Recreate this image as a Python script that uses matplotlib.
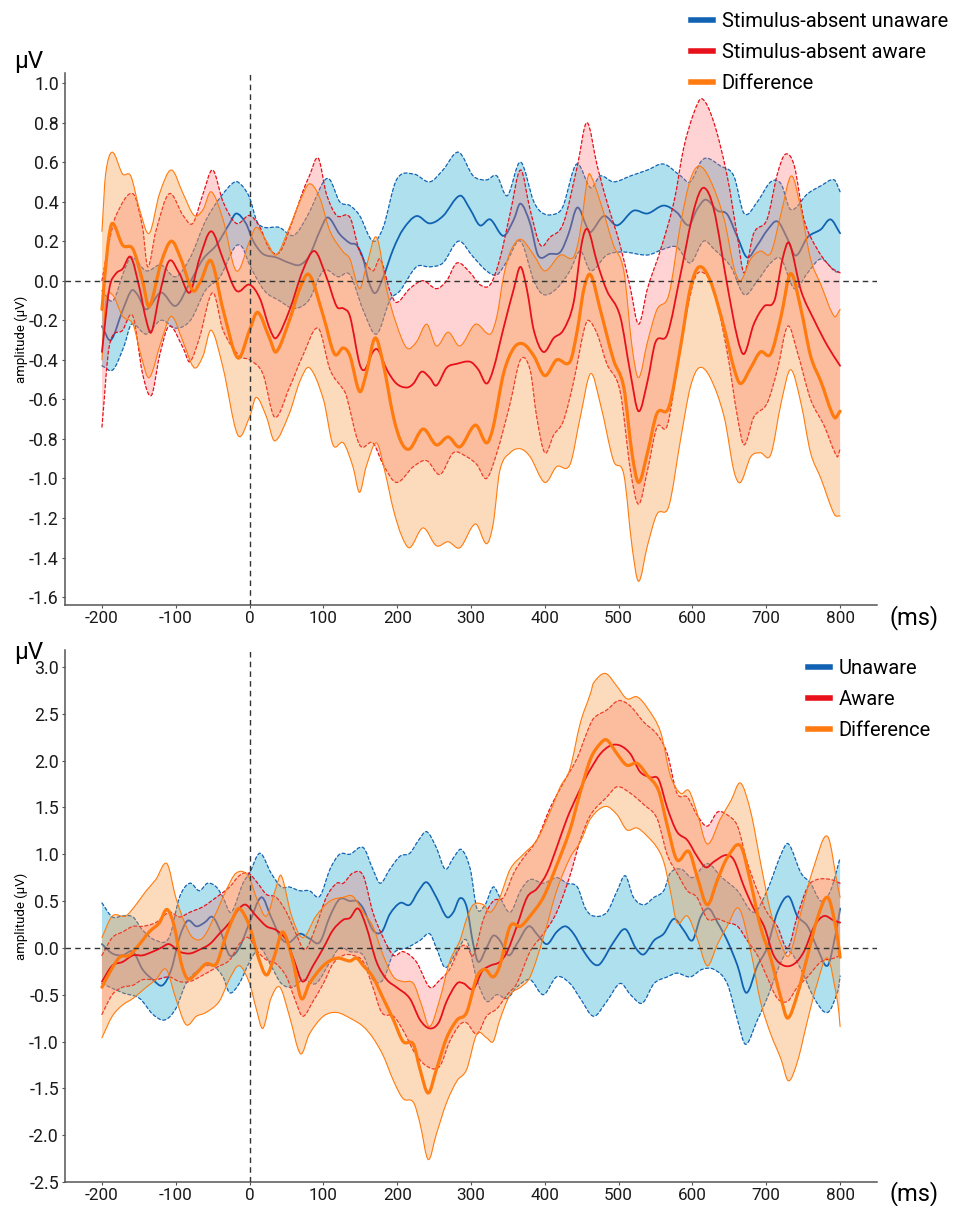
import numpy as np
import matplotlib
matplotlib.use("Agg")
import matplotlib.pyplot as plt
from matplotlib.lines import Line2D
from matplotlib.path import Path
from matplotlib.patches import PathPatch

plt.rcParams['font.family'] = ['Roboto', 'DejaVu Sans']
plt.rcParams['axes.unicode_minus'] = False

# ---------------- data: (time ms, amplitude uV) readings ----------------
# Top panel: stimulus-absent
top_unaware_mean = [(-200,-0.23),(-188,-0.30),(-172,-0.15),(-160,-0.05),(-152,-0.07),(-140,-0.145),(-120,-0.06),(-100,-0.127),(-81,-0.01),(-63,0.11),(-45,0.18),(-27,0.29),(-18,0.34),(-5,0.29),(5,0.20),(18,0.136),(36,0.118),(54,0.09),(68,0.08),(81,0.127),(95,0.25),(106,0.32),(122,0.236),(136,0.19),(145,0.18),(154,0.11),(161,0.0),(170,-0.063),(181,0.018),(195,0.163),(208,0.26),(226,0.327),(244,0.29),(262,0.327),(285,0.43),(299,0.36),(312,0.28),(326,0.31),(344,0.227),(358,0.31),(367,0.39),(380,0.29),(391,0.127),(407,0.136),(421,0.145),(432,0.236),(444,0.37),(457,0.27),(462,0.245),(480,0.327),(498,0.28),(520,0.354),(539,0.34),(561,0.38),(579,0.345),(595,0.28),(606,0.36),(618,0.41),(634,0.354),(647,0.336),(661,0.22),(674,0.118),(688,0.18),(701,0.254),(715,0.30),(729,0.21),(740,0.127),(756,0.22),(774,0.26),(787,0.31),(800,0.24)]
top_unaware_upper = [(-200,-0.05),(-185,-0.1),(-170,0.05),(-160,0.12),(-140,0.05),(-120,0.08),(-100,0.02),(-80,0.12),(-60,0.3),(-40,0.42),(-20,0.50),(-10,0.48),(0,0.42),(10,0.3),(20,0.27),(40,0.27),(60,0.23),(80,0.34),(100,0.5),(109,0.51),(122,0.40),(136,0.38),(149,0.33),(167,0.20),(181,0.27),(199,0.51),(222,0.54),(244,0.50),(262,0.56),(283,0.65),(303,0.53),(321,0.51),(335,0.53),(349,0.43),(367,0.60),(385,0.40),(398,0.34),(416,0.34),(425,0.38),(443,0.59),(462,0.47),(475,0.53),(493,0.50),(516,0.53),(539,0.56),(561,0.59),(584,0.53),(597,0.50),(611,0.60),(620,0.62),(638,0.58),(656,0.53),(670,0.34),(688,0.40),(706,0.50),(720,0.49),(733,0.36),(756,0.44),(774,0.48),(792,0.51),(800,0.45)]
top_unaware_lower = [(-200,-0.43),(-185,-0.45),(-170,-0.33),(-160,-0.22),(-140,-0.27),(-120,-0.2),(-100,-0.24),(-80,-0.2),(-60,-0.05),(-40,0.02),(-20,0.17),(-10,0.17),(0,0.08),(20,-0.05),(40,-0.1),(60,-0.14),(80,-0.1),(100,0.05),(120,0.02),(136,0.03),(154,-0.15),(172,-0.27),(190,-0.1),(204,-0.05),(226,0.07),(244,0.07),(262,0.09),(283,0.2),(303,0.12),(321,0.05),(335,0.03),(349,0.1),(367,0.2),(385,0.0),(398,-0.07),(416,-0.04),(434,0.05),(448,0.15),(462,0.05),(484,0.13),(507,0.145),(539,0.13),(561,0.16),(579,0.17),(597,0.09),(615,0.2),(629,0.16),(652,0.07),(670,-0.07),(688,0.0),(706,0.09),(720,0.11),(738,-0.04),(756,0.04),(774,0.11),(792,0.05),(800,0.04)]

top_aware_mean = [(-200,-0.36),(-190,-0.04),(-181,0.036),(-172,0.06),(-161,0.12),(-149,-0.04),(-140,-0.2),(-133,-0.26),(-122,-0.07),(-109,0.10),(-95,0.036),(-81,-0.06),(-68,0.11),(-52,0.25),(-36,0.11),(-18,-0.05),(0,-0.02),(14,-0.09),(27,-0.24),(36,-0.29),(54,-0.15),(72,0.05),(88,0.15),(104,0.02),(118,-0.13),(127,-0.14),(136,-0.18),(149,-0.42),(156,-0.45),(167,-0.36),(174,-0.35),(186,-0.45),(199,-0.52),(213,-0.54),(222,-0.52),(233,-0.46),(244,-0.49),(253,-0.53),(267,-0.44),(281,-0.42),(299,-0.41),(310,-0.45),(321,-0.52),(330,-0.45),(344,-0.24),(358,-0.04),(367,0.07),(376,-0.05),(385,-0.25),(398,-0.36),(412,-0.29),(425,-0.25),(439,-0.11),(450,0.19),(458,0.26),(471,0.09),(484,-0.05),(502,-0.18),(516,-0.47),(527,-0.66),(539,-0.51),(550,-0.31),(566,-0.27),(584,0.036),(602,0.36),(615,0.47),(629,0.36),(647,-0.02),(661,-0.29),(670,-0.37),(683,-0.22),(697,-0.13),(711,-0.10),(722,0.11),(731,0.19),(747,-0.05),(765,-0.2),(783,-0.33),(800,-0.43)]
top_aware_upper = [(-200,0.0),(-190,0.2),(-181,0.33),(-158,0.44),(-145,0.27),(-138,0.07),(-127,0.25),(-109,0.44),(-90,0.33),(-77,0.29),(-63,0.44),(-50,0.56),(-36,0.40),(-18,0.29),(0,0.33),(14,0.27),(27,0.16),(41,0.145),(59,0.31),(72,0.45),(81,0.53),(93,0.62),(104,0.44),(118,0.33),(136,0.32),(149,0.15),(167,0.05),(177,0.11),(190,-0.05),(199,-0.11),(217,-0.04),(235,0.0),(253,-0.04),(267,0.0),(281,0.09),(299,0.04),(312,-0.02),(326,-0.02),(339,0.11),(353,0.34),(367,0.56),(380,0.36),(394,0.18),(407,0.22),(425,0.29),(444,0.58),(457,0.80),(471,0.58),(484,0.40),(502,0.18),(516,-0.04),(527,-0.22),(539,-0.04),(557,0.16),(575,0.40),(588,0.67),(602,0.85),(613,0.92),(629,0.80),(647,0.53),(661,0.22),(670,0.04),(683,0.24),(701,0.31),(715,0.54),(726,0.64),(738,0.58),(751,0.31),(769,0.16),(787,0.07),(800,0.04)]
top_aware_lower = [(-200,-0.74),(-190,-0.33),(-172,-0.25),(-158,-0.18),(-145,-0.47),(-133,-0.58),(-122,-0.38),(-109,-0.23),(-90,-0.34),(-81,-0.41),(-68,-0.29),(-50,-0.06),(-36,-0.25),(-14,-0.38),(0,-0.40),(18,-0.47),(34,-0.69),(54,-0.54),(72,-0.38),(93,-0.24),(109,-0.45),(127,-0.55),(131,-0.58),(149,-0.83),(167,-0.82),(181,-0.93),(199,-1.02),(222,-0.94),(240,-0.91),(258,-0.98),(276,-0.87),(294,-0.89),(308,-0.93),(321,-1.0),(335,-0.87),(353,-0.62),(367,-0.40),(380,-0.45),(389,-0.69),(400,-0.87),(412,-0.78),(425,-0.71),(439,-0.51),(453,-0.25),(459,-0.2),(471,-0.27),(484,-0.42),(502,-0.56),(516,-0.96),(527,-1.13),(539,-0.96),(552,-0.74),(566,-0.73),(584,-0.33),(602,0.0),(615,0.04),(629,-0.05),(647,-0.36),(661,-0.69),(670,-0.83),(683,-0.69),(701,-0.62),(715,-0.45),(729,-0.23),(742,-0.36),(760,-0.6),(778,-0.73),(796,-0.89),(800,-0.85)]

top_diff_mean = [(-200,-0.145),(-192,0.18),(-186,0.29),(-172,0.18),(-158,0.16),(-145,0.0),(-136,-0.13),(-120,0.09),(-106,0.2),(-93,0.11),(-77,-0.05),(-66,0.0),(-52,0.1),(-36,-0.145),(-16,-0.39),(0,-0.25),(11,-0.16),(27,-0.29),(36,-0.36),(54,-0.2),(68,-0.04),(81,0.03),(100,-0.18),(115,-0.37),(127,-0.34),(136,-0.38),(149,-0.56),(158,-0.47),(170,-0.29),(181,-0.42),(195,-0.69),(206,-0.82),(217,-0.85),(235,-0.75),(253,-0.83),(269,-0.79),(285,-0.84),(306,-0.73),(321,-0.82),(330,-0.74),(344,-0.47),(358,-0.34),(371,-0.32),(385,-0.38),(400,-0.48),(416,-0.4),(434,-0.41),(444,-0.25),(453,-0.04),(462,0.03),(475,-0.145),(493,-0.4),(507,-0.54),(518,-0.87),(527,-1.02),(539,-0.87),(552,-0.67),(568,-0.64),(584,-0.33),(597,-0.04),(609,0.07),(624,0.0),(643,-0.24),(656,-0.44),(665,-0.52),(679,-0.44),(692,-0.36),(706,-0.37),(720,-0.18),(733,0.036),(747,-0.145),(760,-0.38),(774,-0.51),(792,-0.69),(800,-0.66)]
top_diff_upper = [(-200,0.25),(-195,0.54),(-186,0.65),(-172,0.54),(-161,0.53),(-149,0.36),(-136,0.24),(-122,0.44),(-106,0.56),(-90,0.44),(-75,0.33),(-63,0.36),(-52,0.45),(-36,0.31),(-18,0.05),(0,0.2),(9,0.27),(23,0.2),(36,0.13),(54,0.27),(68,0.4),(81,0.49),(95,0.42),(109,0.25),(127,0.145),(136,0.11),(149,-0.04),(158,0.07),(172,0.22),(186,-0.05),(199,-0.22),(213,-0.34),(226,-0.31),(240,-0.22),(253,-0.33),(269,-0.26),(285,-0.33),(306,-0.22),(326,-0.27),(335,-0.18),(344,0.02),(353,0.145),(367,0.21),(385,0.13),(400,0.05),(421,0.13),(439,0.12),(448,0.25),(457,0.5),(461,0.54),(475,0.40),(493,0.18),(507,0.05),(518,-0.33),(527,-0.49),(539,-0.31),(552,-0.145),(568,-0.07),(584,0.29),(597,0.51),(609,0.58),(624,0.51),(643,0.31),(656,0.07),(665,0.0),(679,0.11),(692,0.15),(706,0.14),(720,0.34),(734,0.53),(747,0.36),(760,0.11),(774,-0.02),(792,-0.18),(800,-0.145)]
top_diff_lower = [(-200,-0.4),(-195,-0.11),(-186,-0.07),(-172,-0.18),(-158,-0.22),(-147,-0.38),(-136,-0.49),(-120,-0.31),(-106,-0.18),(-90,-0.31),(-75,-0.44),(-63,-0.38),(-52,-0.25),(-36,-0.44),(-16,-0.78),(0,-0.69),(9,-0.59),(23,-0.69),(34,-0.81),(54,-0.67),(68,-0.51),(81,-0.44),(100,-0.6),(113,-0.83),(127,-0.82),(140,-0.94),(149,-1.07),(158,-0.94),(172,-0.82),(183,-0.96),(195,-1.16),(206,-1.29),(217,-1.35),(235,-1.25),(253,-1.34),(269,-1.32),(285,-1.35),(306,-1.23),(321,-1.33),(330,-1.23),(339,-0.96),(353,-0.87),(367,-0.85),(380,-0.89),(400,-1.02),(416,-0.94),(434,-0.93),(448,-0.69),(462,-0.47),(475,-0.62),(493,-0.91),(507,-0.98),(518,-1.34),(527,-1.52),(539,-1.34),(552,-1.18),(568,-1.14),(584,-0.80),(597,-0.54),(609,-0.44),(624,-0.49),(643,-0.69),(656,-0.96),(665,-1.02),(679,-0.89),(692,-0.87),(706,-0.88),(720,-0.62),(733,-0.45),(747,-0.62),(760,-0.87),(774,-1.0),(792,-1.18),(800,-1.19)]

# Bottom panel
bot_unaware_mean = [(-200,0.04),(-186,-0.06),(-172,-0.08),(-158,-0.04),(-145,-0.23),(-131,-0.34),(-118,-0.40),(-106,-0.23),(-95,0.11),(-84,0.29),(-72,0.23),(-61,0.27),(-50,0.33),(-38,0.15),(-27,-0.08),(-14,0.0),(0,0.27),(16,0.54),(29,0.33),(43,0.10),(54,0.06),(68,0.15),(81,0.10),(95,0.06),(109,0.34),(122,0.52),(136,0.5),(145,0.5),(154,0.42),(167,0.19),(179,0.17),(190,0.36),(204,0.48),(217,0.46),(229,0.61),(240,0.70),(253,0.54),(267,0.33),(276,0.38),(285,0.53),(294,0.44),(303,0.04),(310,-0.15),(321,0.0),(330,0.13),(339,0.08),(351,-0.08),(362,0.04),(378,0.23),(391,0.13),(403,0.04),(416,0.17),(428,0.23),(439,0.15),(453,-0.04),(466,-0.17),(475,-0.17),(493,0.06),(509,0.2),(523,0.0),(534,-0.07),(548,0.08),(561,0.15),(575,0.31),(588,0.19),(600,0.08),(611,0.33),(622,0.42),(634,0.27),(647,0.08),(661,-0.19),(673,-0.48),(688,-0.19),(701,0.0),(715,0.38),(730,0.55),(742,0.34),(756,0.23),(769,0.0),(783,-0.19),(794,0.15),(800,0.42)]
bot_unaware_upper = [(-200,0.48),(-186,0.33),(-172,0.34),(-158,0.33),(-145,0.19),(-127,0.08),(-109,0.11),(-95,0.54),(-81,0.69),(-68,0.61),(-57,0.69),(-45,0.65),(-36,0.54),(-25,0.38),(-9,0.69),(0,0.8),(14,1.01),(29,0.8),(43,0.65),(54,0.65),(68,0.61),(81,0.61),(95,0.55),(109,0.84),(122,1.0),(136,1.0),(154,1.07),(167,0.84),(177,0.69),(190,0.84),(204,0.98),(217,1.01),(229,1.15),(240,1.24),(253,1.07),(265,0.84),(276,0.96),(287,1.05),(299,0.84),(308,0.42),(319,0.46),(330,0.65),(339,0.54),(353,0.38),(367,0.61),(380,0.73),(398,0.69),(416,0.75),(430,0.69),(444,0.65),(455,0.42),(466,0.34),(484,0.38),(498,0.61),(509,0.77),(520,0.54),(534,0.46),(548,0.54),(561,0.61),(570,0.8),(585,0.84),(600,0.75),(620,0.9),(640,0.75),(661,0.61),(683,0.38),(701,0.61),(720,1.0),(730,1.11),(747,0.8),(760,0.69),(774,0.5),(787,0.61),(800,0.96)]
bot_unaware_lower = [(-200,-0.38),(-172,-0.48),(-149,-0.54),(-131,-0.71),(-115,-0.77),(-100,-0.65),(-86,-0.38),(-68,-0.23),(-50,-0.19),(-36,-0.31),(-27,-0.48),(-14,-0.38),(0,-0.15),(14,0.0),(29,-0.19),(43,-0.38),(59,-0.42),(72,-0.34),(90,-0.38),(109,-0.15),(122,0.0),(136,-0.04),(154,-0.08),(167,-0.34),(181,-0.34),(195,-0.06),(213,0.0),(231,0.08),(244,0.15),(253,0.0),(265,-0.21),(281,-0.04),(294,0.08),(308,-0.34),(321,-0.57),(335,-0.5),(349,-0.54),(362,-0.42),(380,-0.34),(398,-0.5),(416,-0.31),(434,-0.38),(448,-0.54),(466,-0.73),(484,-0.57),(502,-0.38),(516,-0.5),(532,-0.59),(548,-0.38),(566,-0.31),(579,-0.27),(597,-0.31),(613,-0.23),(629,-0.23),(647,-0.38),(661,-0.77),(672,-1.03),(688,-0.77),(701,-0.54),(720,-0.15),(731,-0.04),(747,-0.23),(765,-0.54),(783,-0.69),(797,-0.46),(800,-0.3)]

bot_aware_mean = [(-200,-0.36),(-186,-0.19),(-172,-0.15),(-158,-0.08),(-145,-0.08),(-131,-0.04),(-120,0.0),(-109,0.04),(-95,-0.04),(-81,-0.06),(-68,-0.02),(-54,0.04),(-41,0.15),(-27,0.27),(-14,0.42),(-5,0.46),(9,0.34),(23,0.23),(36,0.19),(50,0.08),(61,-0.15),(72,-0.36),(86,-0.19),(100,0.0),(113,0.19),(127,0.3),(136,0.32),(147,0.42),(158,0.23),(172,-0.15),(186,-0.34),(199,-0.42),(217,-0.54),(231,-0.77),(244,-0.86),(256,-0.80),(267,-0.57),(281,-0.38),(290,-0.38),(303,-0.44),(315,-0.25),(326,-0.19),(339,-0.15),(349,-0.04),(362,0.23),(376,0.54),(389,0.63),(403,0.80),(416,1.07),(430,1.38),(444,1.63),(457,1.84),(462,1.91),(475,2.07),(489,2.16),(502,2.16),(516,2.07),(529,1.88),(543,1.82),(554,1.80),(566,1.49),(579,1.24),(593,1.15),(606,0.98),(618,0.86),(629,0.92),(645,0.99),(656,0.94),(670,0.65),(683,0.42),(697,0.23),(710,-0.08),(724,-0.19),(738,-0.17),(751,-0.04),(765,0.23),(778,0.34),(792,0.29),(800,0.27)]
bot_aware_upper = [(-200,-0.08),(-186,0.11),(-172,0.17),(-158,0.23),(-145,0.23),(-127,0.27),(-109,0.38),(-95,0.33),(-81,0.38),(-63,0.44),(-45,0.54),(-27,0.65),(-14,0.77),(-2,0.80),(11,0.69),(23,0.57),(36,0.54),(50,0.38),(63,0.15),(75,-0.02),(90,0.23),(104,0.54),(118,0.69),(127,0.69),(140,0.80),(154,0.77),(167,0.38),(181,0.11),(195,-0.08),(208,-0.04),(226,-0.15),(244,-0.42),(258,-0.34),(271,-0.23),(285,0.0),(294,0.02),(303,-0.08),(317,0.31),(330,0.50),(344,0.54),(358,0.80),(371,0.96),(389,1.15),(407,1.49),(425,1.76),(444,2.03),(457,2.30),(466,2.45),(484,2.54),(500,2.64),(516,2.58),(534,2.41),(552,2.28),(566,2.07),(579,1.65),(593,1.61),(606,1.42),(620,1.30),(634,1.45),(647,1.42),(661,1.30),(674,0.92),(688,0.61),(701,0.38),(715,0.23),(729,0.0),(742,0.34),(756,0.65),(769,0.73),(787,0.73),(800,0.69)]
bot_aware_lower = [(-200,-0.71),(-186,-0.5),(-172,-0.42),(-158,-0.40),(-145,-0.34),(-127,-0.34),(-109,-0.31),(-95,-0.36),(-81,-0.36),(-63,-0.29),(-45,-0.21),(-27,-0.13),(-14,0.04),(-2,0.11),(11,-0.04),(23,-0.13),(36,-0.17),(50,-0.31),(61,-0.54),(72,-0.73),(86,-0.57),(100,-0.38),(113,-0.17),(127,-0.08),(140,-0.08),(154,-0.15),(167,-0.42),(179,-0.69),(195,-0.73),(208,-0.88),(226,-1.15),(244,-1.28),(258,-1.26),(271,-1.0),(285,-0.82),(294,-0.80),(308,-0.92),(321,-0.73),(335,-0.65),(349,-0.50),(362,-0.38),(380,-0.04),(398,0.15),(416,0.38),(434,0.77),(448,1.15),(462,1.42),(484,1.61),(498,1.72),(516,1.65),(534,1.53),(552,1.38),(566,0.99),(579,0.80),(593,0.61),(606,0.54),(620,0.31),(634,0.31),(647,0.27),(661,0.23),(674,0.08),(688,-0.08),(701,-0.31),(715,-0.54),(729,-0.57),(742,-0.42),(756,-0.31),(774,-0.15),(792,-0.11),(800,-0.08)]

bot_diff_mean = [(-200,-0.42),(-190,-0.27),(-176,-0.10),(-163,-0.08),(-149,0.04),(-136,0.17),(-122,0.27),(-112,0.41),(-102,0.23),(-93,-0.15),(-84,-0.33),(-72,-0.27),(-59,-0.17),(-45,-0.17),(-34,0.08),(-23,0.31),(-14,0.42),(0,0.23),(11,-0.08),(23,-0.29),(34,-0.08),(45,0.17),(59,-0.15),(70,-0.54),(81,-0.38),(100,-0.19),(118,-0.11),(136,-0.14),(145,-0.11),(154,-0.19),(167,-0.31),(181,-0.54),(195,-0.77),(208,-1.0),(222,-1.03),(231,-1.30),(242,-1.55),(253,-1.30),(267,-0.96),(281,-0.77),(294,-0.69),(308,-0.31),(319,-0.23),(330,-0.31),(339,-0.19),(353,0.23),(367,0.23),(380,0.34),(398,0.54),(416,0.88),(434,1.26),(448,1.66),(462,2.02),(475,2.18),(484,2.22),(498,2.07),(511,1.95),(525,1.97),(539,1.84),(554,1.68),(566,1.30),(579,0.94),(595,1.03),(606,0.77),(620,0.46),(634,0.73),(647,0.96),(665,1.09),(679,0.69),(692,0.23),(706,-0.11),(720,-0.54),(729,-0.75),(742,-0.50),(756,-0.08),(769,0.31),(783,0.54),(794,0.23),(800,-0.1)]
bot_diff_upper = [(-200,0.11),(-186,0.34),(-168,0.34),(-154,0.46),(-140,0.61),(-127,0.73),(-112,0.90),(-100,0.54),(-88,0.27),(-77,0.11),(-63,0.11),(-45,0.38),(-32,0.61),(-18,0.80),(-2,0.77),(11,0.50),(23,0.34),(36,0.65),(43,0.77),(57,0.34),(72,0.11),(90,0.34),(109,0.50),(127,0.54),(140,0.55),(154,0.38),(167,0.23),(181,-0.08),(195,-0.31),(208,-0.36),(222,-0.38),(233,-0.61),(244,-0.84),(258,-0.54),(271,-0.15),(285,0.08),(294,0.31),(303,0.46),(317,0.46),(326,0.38),(339,0.54),(353,0.84),(371,1.0),(389,1.15),(407,1.45),(421,1.72),(434,1.91),(448,2.40),(462,2.72),(466,2.83),(482,2.93),(498,2.79),(511,2.66),(525,2.68),(539,2.56),(557,2.30),(570,1.84),(584,1.65),(595,1.68),(606,1.45),(620,1.11),(638,1.38),(652,1.57),(665,1.76),(679,1.45),(692,0.92),(706,0.38),(720,0.04),(731,-0.08),(747,0.38),(765,0.88),(783,1.19),(797,0.65),(800,0.54)]
bot_diff_lower = [(-200,-0.96),(-186,-0.73),(-172,-0.61),(-158,-0.54),(-140,-0.42),(-127,-0.34),(-113,-0.23),(-100,-0.54),(-86,-0.82),(-72,-0.73),(-59,-0.69),(-41,-0.57),(-27,-0.33),(-14,-0.19),(0,-0.38),(9,-0.65),(18,-0.86),(29,-0.54),(41,-0.42),(54,-0.73),(69,-1.13),(81,-0.92),(100,-0.73),(118,-0.69),(136,-0.75),(154,-0.84),(167,-0.96),(181,-1.15),(195,-1.42),(208,-1.61),(222,-1.65),(231,-1.88),(242,-2.26),(253,-1.99),(267,-1.65),(281,-1.42),(294,-1.30),(308,-0.92),(321,-0.96),(330,-1.0),(339,-0.77),(353,-0.50),(367,-0.42),(380,-0.31),(398,0.11),(416,0.61),(434,0.96),(448,1.13),(462,1.38),(482,1.51),(498,1.42),(511,1.26),(525,1.28),(539,1.19),(552,1.07),(561,0.92),(570,0.61),(579,0.27),(593,0.34),(606,0.11),(620,-0.19),(634,0.04),(647,0.23),(663,0.42),(679,-0.04),(692,-0.57),(706,-0.92),(720,-1.19),(730,-1.42),(742,-1.22),(756,-0.77),(769,-0.38),(783,-0.11),(797,-0.6),(800,-0.84)]

top_labels = ["Stimulus-absent unaware", "Stimulus-absent aware", "Difference"]
bot_labels = ["Unaware", "Aware", "Difference"]
x_ticks = list(range(-200, 801, 100))
top_yticks = [round(-1.6 + 0.2 * i, 1) for i in range(14)]
bot_yticks = [round(-2.5 + 0.5 * i, 1) for i in range(12)]

# ---------------- style ----------------
BLUE = "#1262b3"
RED = "#e8101a"
ORANGE = "#ff7b0f"
BLUE_FILL = "#5ec4dc"
RED_FILL = "#ff7070"
ORANGE_FILL = "#f99640"
AX_COL = "#333333"
SPINE_COL = "#555555"


def arr(pairs):
    a = np.array(pairs, dtype=float)
    return a[:, 0], a[:, 1]


def hermite(t, v):
    """Smooth cubic path (Bezier form) through the readings, in data units."""
    n = len(t)
    m = np.empty(n)
    m[1:-1] = (v[2:] - v[:-2]) / (t[2:] - t[:-2])
    m[0] = (v[1] - v[0]) / (t[1] - t[0])
    m[-1] = (v[-1] - v[-2]) / (t[-1] - t[-2])
    verts = [(t[0], v[0])]
    codes = [Path.MOVETO]
    for i in range(n - 1):
        h = t[i + 1] - t[i]
        verts += [(t[i] + h / 3, v[i] + m[i] * h / 3),
                  (t[i + 1] - h / 3, v[i + 1] - m[i + 1] * h / 3),
                  (t[i + 1], v[i + 1])]
        codes += [Path.CURVE4] * 3
    return verts, codes


def curve(ax, pairs, color, lw, ls, z):
    t, v = arr(pairs)
    verts, codes = hermite(t, v)
    ax.add_patch(PathPatch(Path(verts, codes), fill=False, edgecolor=color,
                           lw=lw, ls=ls, zorder=z, capstyle="round",
                           joinstyle="round"))


def band(ax, upper, lower, fc, alpha, ec, ls, lw, z):
    tu, vu = arr(upper)
    tl, vl = arr(lower)
    vu_, cu_ = hermite(tu, vu)
    vl_, cl_ = hermite(tl[::-1], vl[::-1])
    cl_[0] = Path.LINETO
    verts = vu_ + vl_ + [vu_[0]]
    codes = cu_ + cl_ + [Path.CLOSEPOLY]
    ax.add_patch(PathPatch(Path(verts, codes), facecolor=fc, alpha=alpha,
                           lw=0, zorder=z))
    curve(ax, upper, ec, lw, ls, z + 0.5)
    curve(ax, lower, ec, lw, ls, z + 0.5)


def panel(ax, unaware, aware, diff, ylim, yticks):
    (um, uu, ul), (am, au, al), (dm, du, dl) = unaware, aware, diff
    band(ax, uu, ul, BLUE_FILL, 0.5, BLUE, (0, (2.5, 2)), 0.9, 1)
    curve(ax, um, BLUE, 1.3, "-", 2)
    band(ax, au, al, RED_FILL, 0.3, RED, (0, (2.5, 2)), 0.9, 3)
    band(ax, du, dl, ORANGE_FILL, 0.35, ORANGE, "-", 0.8, 4)
    curve(ax, am, RED, 1.3, "-", 6)
    curve(ax, dm, ORANGE, 2.3, "-", 7)

    ax.axhline(0, color=AX_COL, ls=(0, (4, 3)), lw=1.0, zorder=8)
    ax.axvline(0, color=AX_COL, ls=(0, (4, 3)), lw=1.0, zorder=8)
    ax.set_xlim(-250, 850)
    ax.set_ylim(*ylim)
    ax.set_xticks(x_ticks)
    ax.set_xticklabels([str(x) for x in x_ticks])
    ax.set_yticks(yticks)
    ax.set_yticklabels(["{:.1f}".format(y) for y in yticks])
    for s in ("top", "right"):
        ax.spines[s].set_visible(False)
    for s in ("left", "bottom"):
        ax.spines[s].set_color(SPINE_COL)
        ax.spines[s].set_linewidth(1.1)
    ax.tick_params(axis="both", length=2.5, width=0.8, color=SPINE_COL,
                   labelcolor="#1a1a1a", pad=2)
    ax.tick_params(axis="x", labelsize=12.3)
    ax.tick_params(axis="y", labelsize=12.8)
    ax.set_ylabel("amplitude (μV)", fontsize=9.5, labelpad=1)


fig = plt.figure(figsize=(9.75, 12.06), dpi=100)
ax1 = fig.add_axes([0.0667, 0.4983, 0.8328, 0.4411])
ax2 = fig.add_axes([0.0667, 0.0199, 0.8328, 0.4411])

panel(ax1,
      (top_unaware_mean, top_unaware_upper, top_unaware_lower),
      (top_aware_mean, top_aware_upper, top_aware_lower),
      (top_diff_mean, top_diff_upper, top_diff_lower),
      (-1.64, 1.05), top_yticks)
panel(ax2,
      (bot_unaware_mean, bot_unaware_upper, bot_unaware_lower),
      (bot_aware_mean, bot_aware_upper, bot_aware_lower),
      (bot_diff_mean, bot_diff_upper, bot_diff_lower),
      (-2.5, 3.18), bot_yticks)

for ax, labels, anchor in ((ax1, top_labels, (0.9805, 0.9967)),
                           (ax2, bot_labels, (0.963, 0.460))):
    handles = [Line2D([0], [0], color=c, lw=4) for c in (BLUE, RED, ORANGE)]
    ax.legend(handles, labels, loc="upper right", bbox_to_anchor=anchor,
              bbox_transform=fig.transFigure, frameon=False, fontsize=14.5,
              handlelength=1.05, handletextpad=0.45, labelspacing=0.6,
              borderaxespad=0)

fig.text(0.030, 0.949, "μV", fontsize=17.5, ha="center", va="center")
fig.text(0.030, 0.459, "μV", fontsize=17.5, ha="center", va="center")
fig.text(0.938, 0.488, "(ms)", fontsize=17, ha="center", va="center")
fig.text(0.938, 0.010, "(ms)", fontsize=17, ha="center", va="center")

fig.savefig("out.png", dpi=100)
